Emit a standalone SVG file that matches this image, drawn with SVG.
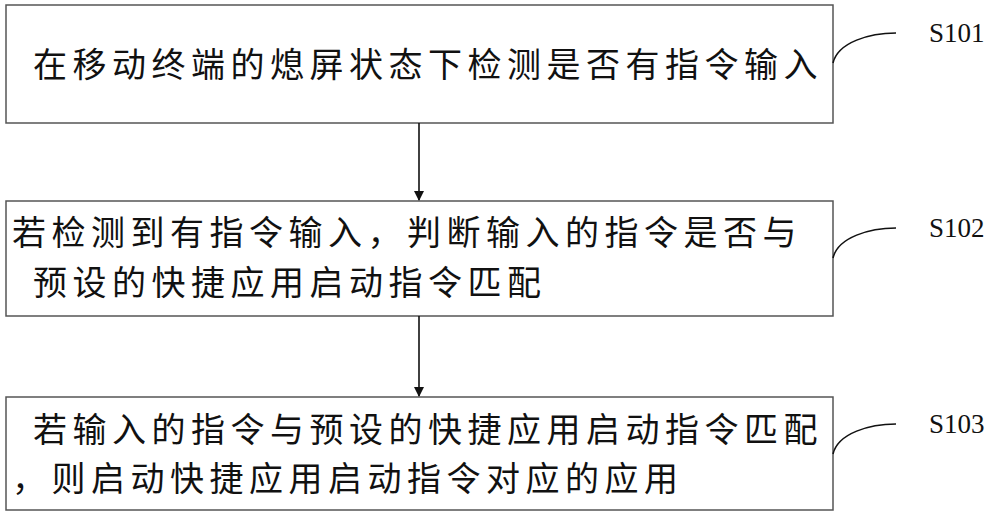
<svg xmlns="http://www.w3.org/2000/svg" width="1000" height="519" viewBox="0 0 1000 519">
<style>
.box{fill:#fff;stroke:#555;stroke-width:1.5}
.t{font-family:"Noto Sans CJK SC",sans-serif;font-size:34px;letter-spacing:5.5px;fill:#111}
.l{font-family:"Liberation Serif",serif;font-size:27px;fill:#111}
.c{fill:none;stroke:#111;stroke-width:1.6}
</style>
<defs><marker id="a" markerWidth="10" markerHeight="10" refX="9" refY="5" orient="auto" markerUnits="userSpaceOnUse"><path d="M0,0 L10,5 L0,10z" fill="#111"/></marker></defs>
<rect width="1000" height="519" fill="#fff"/>
<g id="n1"><rect class="box" x="6" y="5" width="827" height="118"/><text class="t" x="33" y="77">在移动终端的熄屏状态下检测是否有指令输入</text></g>
<g id="n2"><rect class="box" x="6" y="201" width="827" height="115"/><text class="t" x="12" y="245">若检测到有指令输入，判断输入的指令是否与</text><text class="t" x="33" y="295">预设的快捷应用启动指令匹配</text></g>
<g id="n3"><rect class="box" x="6" y="397" width="827" height="113"/><text class="t" x="33" y="442">若输入的指令与预设的快捷应用启动指令匹配</text><text class="t" x="12" y="491">，则启动快捷应用启动指令对应的应用</text></g>
<g id="connectors">
<line class="c" x1="419" y1="123" x2="419" y2="200" marker-end="url(#a)"/>
<line class="c" x1="419" y1="316" x2="419" y2="396" marker-end="url(#a)"/>
<path class="c" d="M833,63 C838,42 870,33 896,33"/>
<path class="c" d="M833,258 C838,237 870,228 896,228"/>
<path class="c" d="M833,454 C838,433 870,424 896,424"/>
</g>
<text class="l" x="929" y="42">S101</text>
<text class="l" x="929" y="237">S102</text>
<text class="l" x="929" y="433">S103</text>
</svg>
